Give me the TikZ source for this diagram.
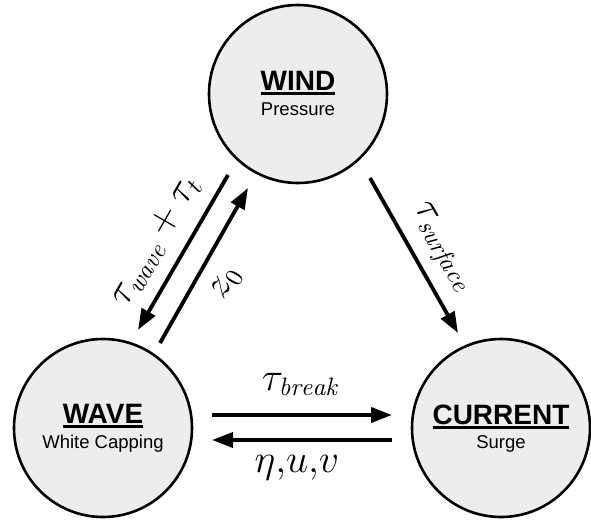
\documentclass[tikz,border=0pt]{standalone}
\usepackage{fontspec}
\newfontfamily\arialf{Liberation Sans}
\usetikzlibrary{arrows.meta}
\definecolor{cfill}{HTML}{EDEDED}
\DeclareMathSizes{17.28}{17.28}{10.95}{8}
\newcommand\myul[1]{\setbox0\hbox{#1}\rlap{\rule[-4.5pt]{\wd0}{2.6pt}}\box0}
\begin{document}
\begin{tikzpicture}[x=1pt,y=-1pt,
  state/.style={circle,draw,line width=2.6pt,fill=cfill,minimum size=178pt,inner sep=0pt},
  title/.style={anchor=base,inner sep=0pt,font=\arialf\fontsize{28}{30}\selectfont\bfseries},
  subtitle/.style={anchor=base,inner sep=0pt,font=\arialf\fontsize{18.5}{20}\selectfont},
  flow/.style={line width=3.8pt,-{Triangle[length=21pt,width=15pt]}},
  lab/.style={inner sep=0pt,font=\fontsize{17.28}{20}\selectfont,scale=2.3,transform shape}]
\useasboundingbox (0,0) rectangle (591,519);
\node[state] (wind) at (298,94) {};
\node[state] (wave) at (103,428) {};
\node[state] (cur) at (501,428) {};
\node[title] (windt) at (298,90) {\myul{WIND}};
\node[subtitle] (winds) at (298,115) {Pressure};
\node[title] (wavet) at (103,423) {\myul{WAVE}};
\node[subtitle] (waves) at (103,448) {White Capping};
\node[title] (curt) at (501,424) {\myul{CURRENT}};
\node[subtitle] (curs) at (501,448) {Surge};
\coordinate (a1s) at (228,175);
\coordinate (a1e) at (138,330);
\coordinate (a2s) at (160,343);
\coordinate (a2e) at (248,188);
\coordinate (a3s) at (370,178);
\coordinate (a3e) at (458,333);
\coordinate (a4s) at (212,415);
\coordinate (a4e) at (392,415);
\coordinate (a5s) at (392,440);
\coordinate (a5e) at (212,440);
\draw[flow] (a1s) -- (a1e);
\draw[flow] (a2s) -- (a2e);
\draw[flow] (a3s) -- (a3e);
\draw[flow] (a4s) -- (a4e);
\draw[flow] (a5s) -- (a5e);
\node[lab,rotate=60] (l1) at (156,241) {$\tau_{\mathit{wave}}+\tau_t$};
\node[lab,rotate=60] (l2) at (227,284) {$z_0$};
\node[lab,rotate=-60] (l3) at (441,248) {$\tau_{\mathit{surface}}$};
\node[lab,anchor=base] (l4) at (300,390) {$\tau_{\mathit{break}}$};
\node[lab,anchor=base] (l5) at (297,472) {$\eta{,}u{,}v$};
\end{tikzpicture}
\end{document}
